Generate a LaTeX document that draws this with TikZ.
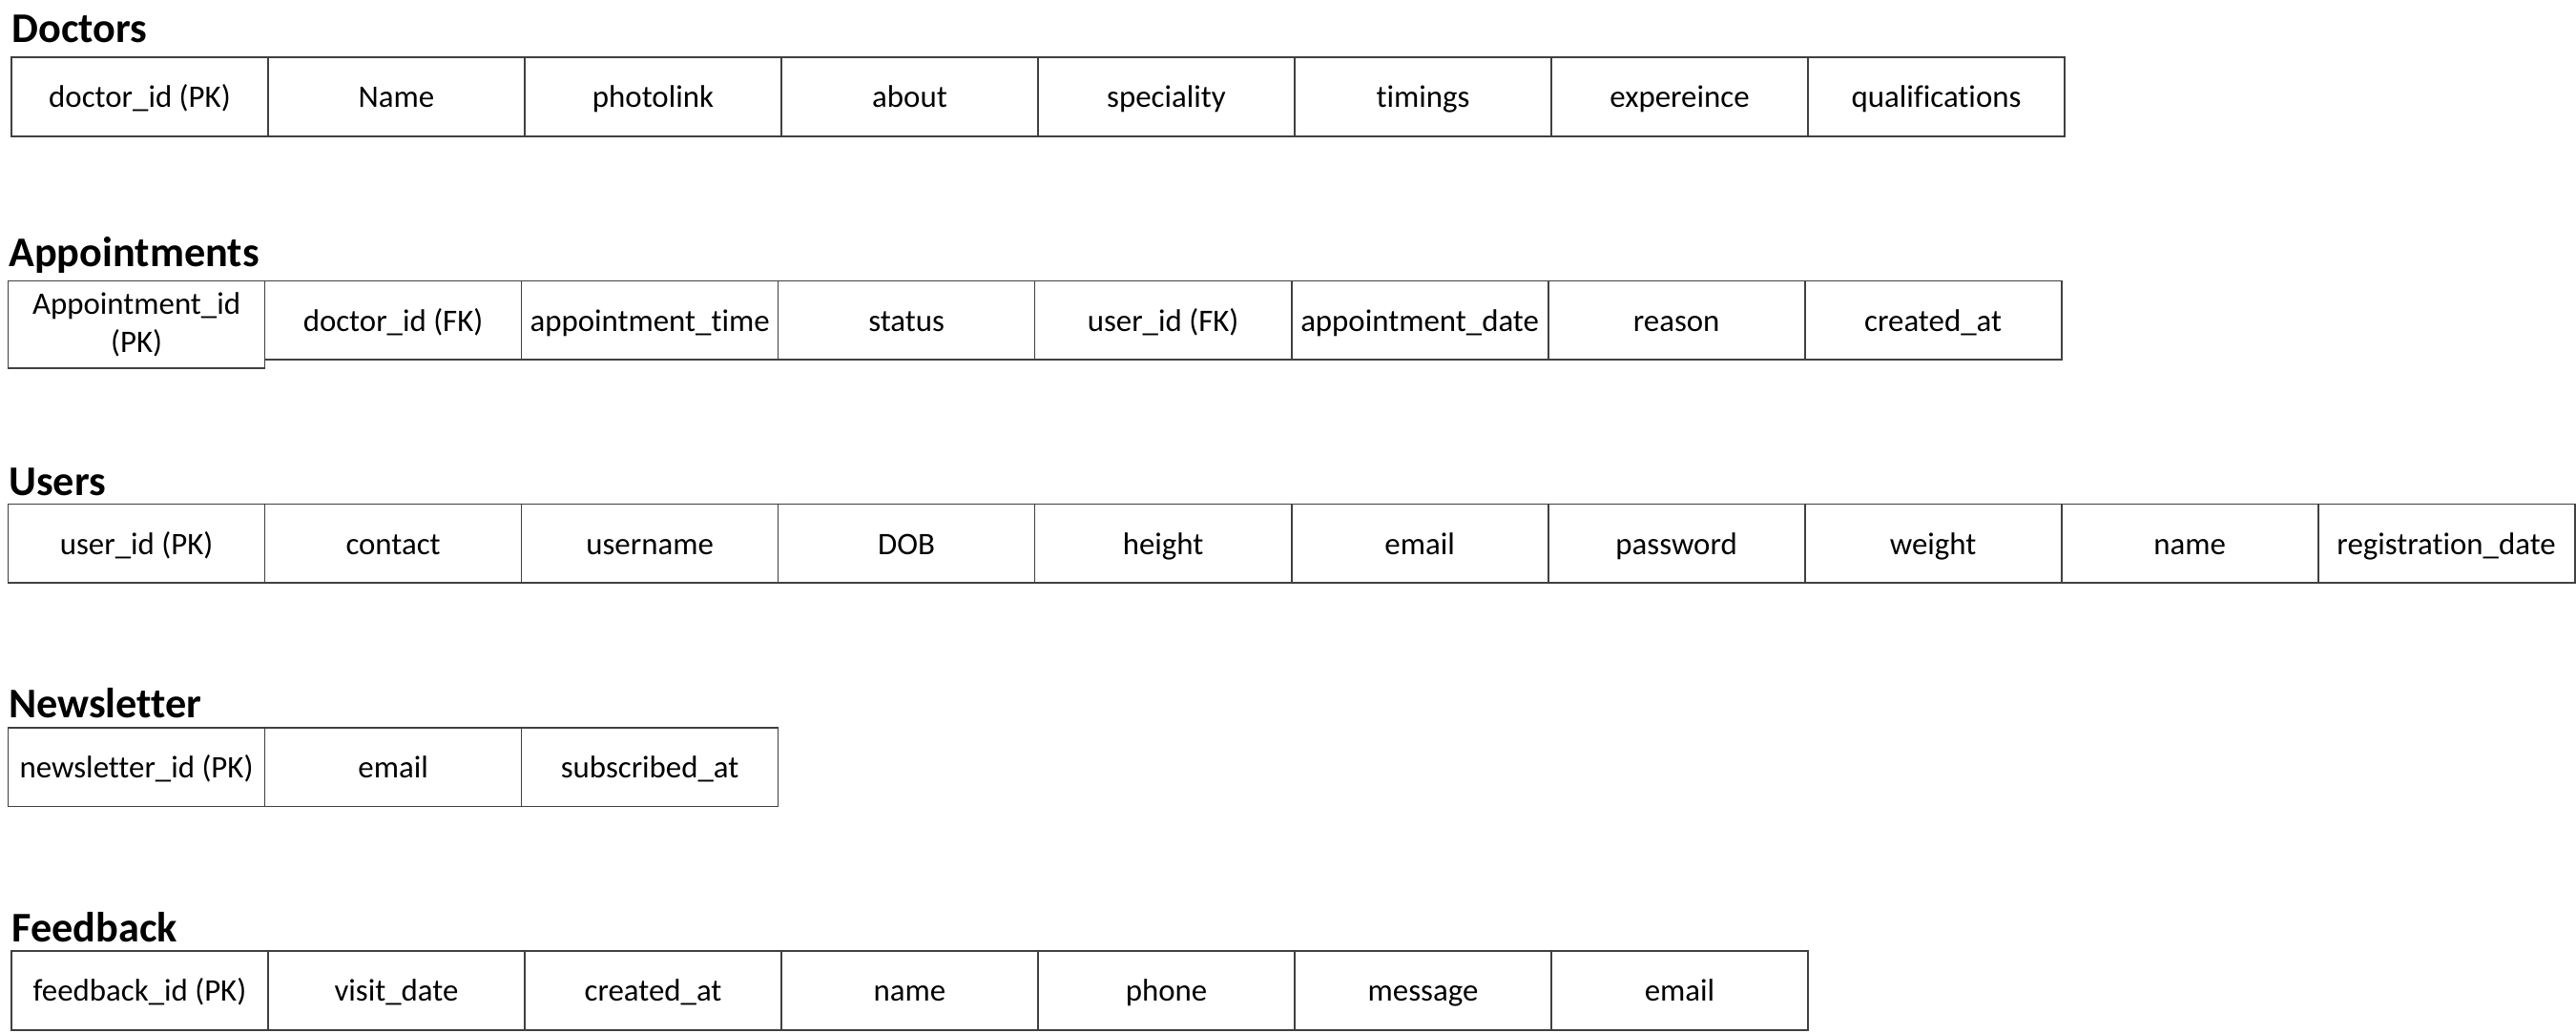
\documentclass[tikz,border=0pt]{standalone}
\usepackage{fontspec}
\setmainfont{Carlito}[Ligatures={NoCommon}]
\usetikzlibrary{positioning}
\newcommand\fieldfont{\fontsize{9.35}{11.3}\selectfont}
\newcommand\titlefont{\fontsize{12.6}{15}\selectfont\bfseries}
\tikzset{
  cellbox/.style={draw=black!75, line width=0.5pt, minimum width=2.69cm, minimum height=0.827cm,
    inner sep=0pt, outer sep=0pt, anchor=north west, align=center, font=\fieldfont},
  field/.style={cellbox, text height=1.7ex, text depth=0.35ex},
  tablename/.style={anchor=base west, inner sep=0pt, font=\titlefont}
}
\begin{document}
\begin{tikzpicture}
				\newcommand \CellWidth {2.69};
				\useasboundingbox (0,0) rectangle (27,-10.82);
				% Doctors
				\node[tablename] (doctors) at (0.12,-0.448) {Doctors};
				\foreach \f [count=\i] in {doctor\_id (PK), Name, photolink, about, speciality, timings, expereince, qualifications} {
					\node[field] (doc\i) at ({0.12+(\i-1)*\CellWidth},-0.603) {\f};
				};
				% Appointments
				\node[tablename] (appointments) at (0.086,-2.794) {Appointments};
				\node[cellbox, minimum height=0.913cm] (app1) at (0.086,-2.944) {Appointment\_id\\(PK)};
				\foreach \f [count=\i from 2] in {doctor\_id (FK), appointment\_time, status, user\_id (FK), appointment\_date, reason, created\_at} {
					\node[field] (app\i) at ({0.086+(\i-1)*\CellWidth},-2.944) {\f};
				};
				% Users
				\node[tablename] (users) at (0.086,-5.191) {Users};
				\foreach \f [count=\i] in {user\_id (PK), contact, username, DOB, height, email, password, weight, name, registration\_date} {
					\node[field] (usr\i) at ({0.086+(\i-1)*\CellWidth},-5.286) {\f};
				};
				% Newsletter
				\node[tablename] (newsletter) at (0.086,-7.528) {Newsletter};
				\foreach \f [count=\i] in {newsletter\_id (PK), email, subscribed\_at} {
					\node[field] (news\i) at ({0.086+(\i-1)*\CellWidth},-7.628) {\f};
				};
				% Feedback
				\node[tablename] (feedback) at (0.12,-9.87) {Feedback};
				\foreach \f [count=\i] in {feedback\_id (PK), visit\_date, created\_at, name, phone, message, email} {
					\node[field] (fb\i) at ({0.12+(\i-1)*\CellWidth},-9.97) {\f};
				};
			\end{tikzpicture}
\end{document}
